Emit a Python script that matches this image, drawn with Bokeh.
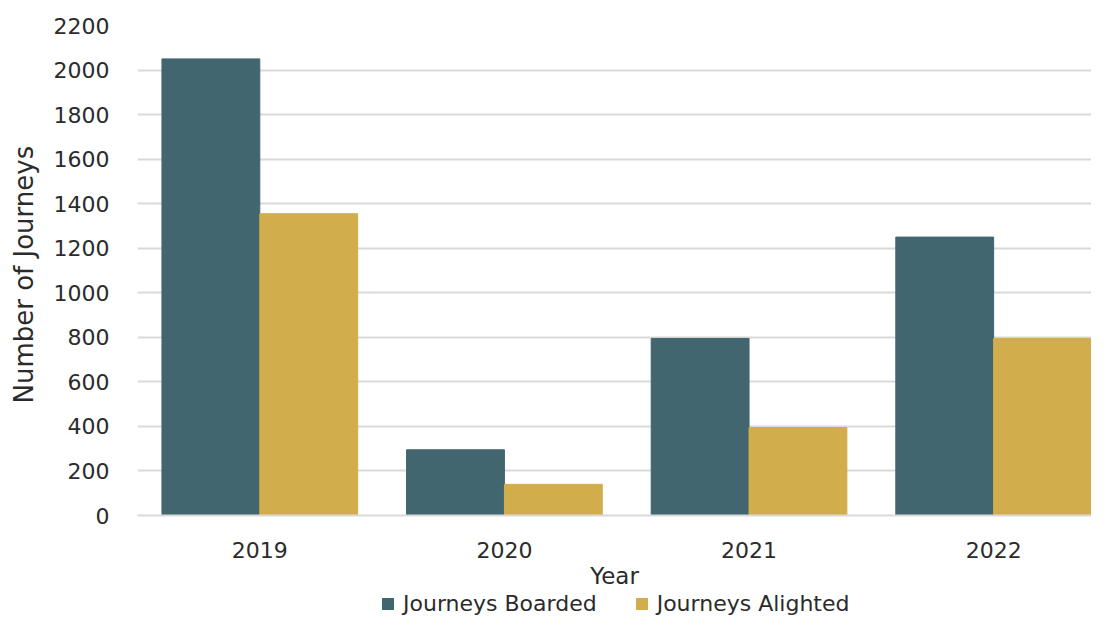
from bokeh.plotting import figure
from bokeh.layouts import column
from bokeh.models import Range1d, FixedTicker, SingleIntervalTicker, Legend, LegendItem, ColumnDataSource
from bokeh.embed import file_html
from bokeh.resources import INLINE

years = ["2019", "2020", "2021", "2022"]
boarded = [2050, 295, 795, 1250]
alighted = [1355, 140, 395, 795]
series_names = ["Journeys Boarded", "Journeys Alighted"]
colors = ["#41666f", "#d1ae4b"]
y_ticks_step = 200

idx = list(range(len(years)))
src = ColumnDataSource(dict(
    xb=[i + 0.3 for i in idx],
    xa=[i + 0.7 for i in idx],
    boarded=boarded,
    alighted=alighted,
))

FONT = "DejaVu Sans"
TXT = "#2b2b2b"
W = 1091

p = figure(width=W, height=592, output_backend="svg", toolbar_location=None,
           x_range=Range1d(0, 3.9), y_range=Range1d(0, 2200),
           min_border_left=137, min_border_right=0, min_border_top=25, min_border_bottom=77)
p.outline_line_color = None

p.vbar(x="xb", top="boarded", width=0.4, source=src, fill_color=colors[0], line_color=colors[0])
p.vbar(x="xa", top="alighted", width=0.4, source=src, fill_color=colors[1], line_color=colors[1])

p.xaxis.ticker = FixedTicker(ticks=[i + 0.5 for i in idx])
p.xaxis.major_label_overrides = {i + 0.5: y for i, y in zip(idx, years)}
p.xaxis.major_tick_line_color = None
p.xaxis.minor_tick_line_color = None
p.xaxis.axis_line_color = "#d9d9d9"
p.xaxis.axis_line_width = 2
p.xaxis.major_label_standoff = 20
p.xaxis.major_label_text_font = FONT
p.xaxis.major_label_text_font_size = "22px"
p.xaxis.major_label_text_color = TXT
p.xaxis.axis_label = "Year"
p.xaxis.axis_label_text_font = FONT
p.xaxis.axis_label_text_font_size = "23px"
p.xaxis.axis_label_text_font_style = "normal"
p.xaxis.axis_label_text_color = TXT
p.xaxis.axis_label_standoff = 2

p.yaxis.ticker = SingleIntervalTicker(interval=y_ticks_step)
p.yaxis.major_tick_line_color = None
p.yaxis.minor_tick_line_color = None
p.yaxis.axis_line_color = None
p.yaxis.major_label_standoff = 22
p.yaxis.major_label_text_font = FONT
p.yaxis.major_label_text_font_size = "22px"
p.yaxis.major_label_text_color = TXT
p.yaxis.axis_label = "Number of  Journeys"
p.yaxis.axis_label_text_font = FONT
p.yaxis.axis_label_text_font_size = "26px"
p.yaxis.axis_label_text_font_style = "normal"
p.yaxis.axis_label_text_color = TXT
p.yaxis.axis_label_standoff = 12

p.xgrid.grid_line_color = None
p.ygrid.grid_line_color = "#d9d9d9"
p.ygrid.grid_line_width = 2

# legend strip below the chart (its frame is aligned with the chart's frame)
lf = figure(width=W, height=24, output_backend="svg", toolbar_location=None,
            x_range=Range1d(0, 1), y_range=Range1d(0, 1),
            x_axis_type=None, y_axis_type=None, min_border=0)
lf.outline_line_color = None
lf.xgrid.visible = False
lf.ygrid.visible = False
items = []
for name, c in zip(series_names, colors):
    # swatch-only renderer: a hairline bar far outside the visible range
    r = lf.vbar(x=[-100], top=[-50], bottom=[-60], width=0.0001, fill_color=c, line_color=None)
    items.append(LegendItem(label=name, renderers=[r]))

legend = Legend(items=items, orientation="horizontal", location=(243, 0),
                label_text_font=FONT, label_text_font_size="22px", label_text_color=TXT,
                glyph_width=15, glyph_height=15, label_standoff=8, spacing=37,
                padding=0, margin=0, border_line_color=None, background_fill_alpha=0)
lf.add_layout(legend, "center")

layout = column(p, lf, spacing=0)
open("out.html", "w").write(file_html(layout, INLINE))
